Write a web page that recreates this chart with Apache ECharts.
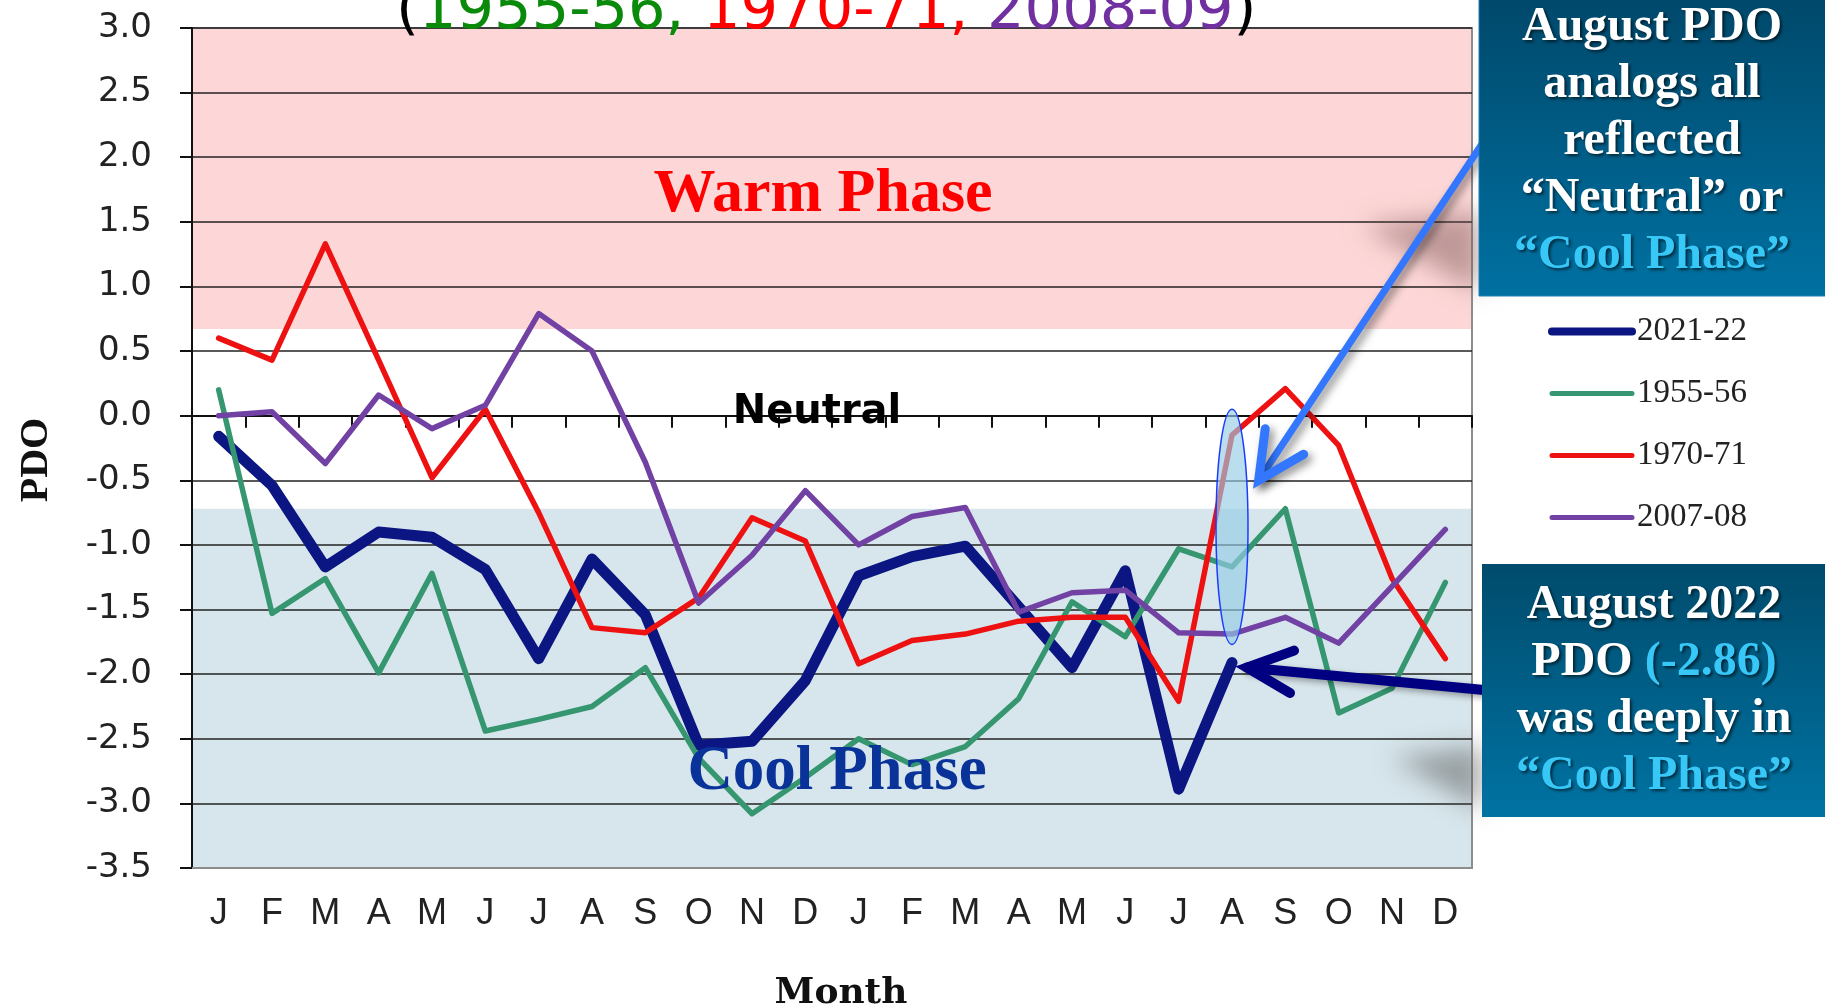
<!DOCTYPE html>
<html><head><meta charset="utf-8">
<script src="https://cdn.jsdelivr.net/npm/echarts/dist/echarts.min.js"></script>
<style>html,body{margin:0;padding:0;background:#fff;}#c{width:1825px;height:1007px;}</style>
</head><body><div id="c"></div>
<script>
// ---- data ----
const months = ['J','F','M','A','M','J','J','A','S','O','N','D','J','F','M','A','M','J','J','A','S','O','N','D'];
const seriesNames = ['2021-22','1955-56','1970-71','2007-08'];
const pdo2021_22 = [-0.16,-0.54,-1.17,-0.90,-0.94,-1.19,-1.88,-1.11,-1.54,-2.55,-2.52,-2.05,-1.24,-1.09,-1.01,-1.48,-1.95,-1.20,-2.89,-1.91];
const pdo1955_56 = [0.20,-1.53,-1.26,-1.99,-1.22,-2.44,-2.35,-2.25,-1.95,-2.65,-3.08,-2.80,-2.50,-2.70,-2.56,-2.19,-1.44,-1.71,-1.03,-1.17,-0.72,-2.30,-2.11,-1.29];
const pdo1970_71 = [0.60,0.43,1.33,0.43,-0.48,0.05,-0.75,-1.64,-1.68,-1.41,-0.79,-0.97,-1.92,-1.74,-1.69,-1.59,-1.56,-1.56,-2.21,-0.15,0.21,-0.23,-1.26,-1.88];
const pdo2007_08 = [0.00,0.03,-0.37,0.16,-0.10,0.08,0.79,0.50,-0.36,-1.45,-1.08,-0.58,-1.00,-0.78,-0.71,-1.52,-1.37,-1.35,-1.68,-1.69,-1.56,-1.76,-1.32,-0.88];
const warmPhase = [0.67, 3.0];
const coolPhase = [-3.5, -0.72];
const titleYears = ['1955-56', '1970-71', '2008-09'];
const augIndex = 19;
const augRange = [0.05, -1.77];
const aug2022Label = '(-2.86)';

const colors = {'2021-22':'#0b1683','1955-56':'#36966f','1970-71':'#ee1111','2007-08':'#7142a3'};
const widths = {'2021-22':11,'1955-56':5.5,'1970-71':5.5,'2007-08':5.5};
const seriesData = {'2021-22':pdo2021_22,'1955-56':pdo1955_56,'1970-71':pdo1970_71,'2007-08':pdo2007_08};

const chart = echarts.init(document.getElementById('c'));
const lineSeries = seriesNames.map(n => ({
  name: n, type: 'line', data: seriesData[n], symbol: 'none', z: 3,
  lineStyle: {color: colors[n], width: widths[n], cap: 'round', join: 'round'},
  itemStyle: {color: colors[n]}
}));

const option = {
  animation: false,
  backgroundColor: '#ffffff',
  grid: {left: 192, right: 353, top: 28, bottom: 139, show: true, borderColor: '#8c8c8c', borderWidth: 2,
         backgroundColor: 'transparent', outerBoundsMode: 'none', containLabel: false},
  legend: {
    data: seriesNames.map(n => ({name: n, lineStyle: {width: n === '2021-22' ? 8 : 5, cap: 'round'}})),
    orient: 'vertical', left: 1543, top: 310, itemWidth: 80, itemHeight: 10, itemGap: 29,
    itemStyle: {opacity: 0},
    textStyle: {fontFamily: 'Liberation Serif', fontSize: 33, color: '#222', lineHeight: 32}
  },
  xAxis: [
    {type: 'category', data: months, position: 'bottom',
     axisLine: {onZero: false, lineStyle: {color: '#8c8c8c', width: 2}},
     axisTick: {show: false}, splitLine: {show: false},
     axisLabel: {interval: 0, fontFamily: 'Liberation Sans', fontSize: 36, color: '#222', margin: 28},
     name: 'Month', nameLocation: 'middle', nameGap: 108,
     nameTextStyle: {fontFamily: 'DejaVu Serif', fontWeight: 'bold', fontSize: 36, color: '#111', padding: [0, 0, 0, 18]}},
    {type: 'category', data: months, position: 'bottom',
     axisLine: {onZero: true, lineStyle: {color: '#111', width: 2}},
     axisTick: {show: true, length: 12, lineStyle: {color: '#111', width: 2}},
     axisLabel: {show: false}, splitLine: {show: false}}
  ],
  yAxis: {
    type: 'value', min: -3.5, max: 3, interval: 0.5,
    axisLine: {show: true, onZero: false, lineStyle: {color: '#111', width: 2}},
    axisTick: {show: true, length: 12, lineStyle: {color: '#111', width: 2}},
    axisLabel: {formatter: v => v.toFixed(1), fontFamily: 'DejaVu Sans', fontSize: 34, color: '#222', margin: 40},
    splitLine: {show: true, lineStyle: {color: '#222', width: 1.5}},
    name: 'PDO', nameLocation: 'middle', nameGap: 135, nameRotate: 90,
    nameTextStyle: {fontFamily: 'Liberation Serif', fontWeight: 'bold', fontSize: 40, color: '#111', padding: [0, 24, 0, 0]}
  },
  series: [
    {type: 'line', name: 'phases', data: [], silent: true, z: -1,
     markArea: {silent: true, z: -1, label: {show: false},
       data: [
         [{yAxis: warmPhase[0], itemStyle: {color: '#fdd7d7'}}, {yAxis: warmPhase[1]}],
         [{yAxis: coolPhase[0], itemStyle: {color: '#d7e6ec'}}, {yAxis: coolPhase[1]}]
       ]}}
  ].concat(lineSeries)
};
chart.setOption(option);

// ---- annotations ----
const px = (i, v) => chart.convertToPixel({xAxisIndex: 0, yAxisIndex: 0}, [i, v]);
const eTop = px(augIndex, augRange[0]), eBot = px(augIndex, augRange[1]);
const pAug = px(augIndex, -0.5), pSep = px(augIndex + 1, -0.5);
const blueTip = [(pAug[0] + pSep[0]) / 2, pAug[1]];
const blueTail = [1486, 138];
const navyPt = px(augIndex, pdo2021_22[augIndex]);
const navyTip = [navyPt[0] + 15, navyPt[1] + 5];
const navyTail = [1484, 690];
function head(tip, tail, len, ang) {
  const a = Math.atan2(tail[1] - tip[1], tail[0] - tip[0]);
  return [[tip[0] + len * Math.cos(a + ang), tip[1] + len * Math.sin(a + ang)], tip,
          [tip[0] + len * Math.cos(a - ang), tip[1] + len * Math.sin(a - ang)]];
}
const serifB = '"Liberation Serif", "Times New Roman", serif';
const cyan = '#38c8f8';
const boxText = {fill: '#ffffff', fontFamily: serifB, fontWeight: 'bold', fontSize: 48, lineHeight: 57,
  align: 'center', verticalAlign: 'middle',
  textShadowColor: 'rgba(0,0,0,0.6)', textShadowBlur: 3, textShadowOffsetX: 2, textShadowOffsetY: 2};
const richC = {c: {fill: cyan, fontFamily: serifB, fontWeight: 'bold', fontSize: 48, lineHeight: 57,
  textShadowColor: 'rgba(0,0,0,0.6)', textShadowBlur: 3, textShadowOffsetX: 2, textShadowOffsetY: 2}};
const grad = (a, b) => new echarts.graphic.LinearGradient(0, 0, 0, 1, [{offset: 0, color: a}, {offset: 1, color: b}]);
const OFF = 3000;
const softShadow = (pts, col) => ({type: 'polygon', z: 41,
  shape: {points: pts.map(p => [p[0] - OFF, p[1]])},
  style: {fill: '#000', shadowBlur: 24, shadowColor: col, shadowOffsetX: OFF, shadowOffsetY: 0}});

const titleFont = {fontFamily: '"Comic Sans MS", "DejaVu Sans", sans-serif', fontSize: 59, lineHeight: 60};
chart.setOption({
  graphic: [
    {type: 'text', z: 50, style: Object.assign({
      x: 396, y: 13, align: 'left', verticalAlign: 'middle',
      text: '{k|(}{g|' + titleYears[0] + ',} {r|' + titleYears[1] + ',} {p|' + titleYears[2] + '}{k|)}',
      rich: {k: Object.assign({fill: '#000'}, titleFont), g: Object.assign({fill: '#0a8a0a'}, titleFont),
             r: Object.assign({fill: '#ff0000'}, titleFont), p: Object.assign({fill: '#7030a0'}, titleFont)}
    }, titleFont)},
    {type: 'text', z: 50, style: {x: 823, y: 195, text: 'Warm Phase', fill: '#ff0000', align: 'center', verticalAlign: 'middle',
      fontFamily: serifB, fontWeight: 'bold', fontSize: 62}},
    {type: 'text', z: 50, style: {x: 837, y: 773, text: 'Cool Phase', fill: '#0a3399', align: 'center', verticalAlign: 'middle',
      fontFamily: serifB, fontWeight: 'bold', fontSize: 63}},
    {type: 'text', z: 50, style: {x: 817, y: 413, text: 'Neutral', fill: '#000', align: 'center', verticalAlign: 'middle',
      fontFamily: '"Comic Sans MS", "DejaVu Sans", sans-serif', fontWeight: 'bold', fontSize: 40}},
    // highlight ellipse
    {type: 'ellipse', z: 40, shape: {cx: eTop[0], cy: (eTop[1] + eBot[1]) / 2, rx: 16, ry: (eBot[1] - eTop[1]) / 2},
     style: {fill: 'rgba(150,205,230,0.65)', stroke: '#1a3cff', lineWidth: 1.5}},
    // soft box shadows
    softShadow([[1362, 226], [1480, 212], [1480, 292]], 'rgba(130,90,90,0.5)'),
    softShadow([[1392, 758], [1482, 746], [1482, 810]], 'rgba(90,90,90,0.5)'),
    // blue arrow
    {type: 'polyline', z: 45, shape: {points: [blueTail, blueTip]},
     style: {stroke: '#3377ff', lineWidth: 7, lineCap: 'round', shadowBlur: 8, shadowColor: 'rgba(0,0,0,0.45)', shadowOffsetX: 4, shadowOffsetY: 4}},
    {type: 'polyline', z: 45, shape: {points: head(blueTip, blueTail, 52, 0.46)},
     style: {stroke: '#3377ff', lineWidth: 9, lineCap: 'round', lineJoin: 'miter', fill: null,
       shadowBlur: 8, shadowColor: 'rgba(0,0,0,0.45)', shadowOffsetX: 4, shadowOffsetY: 4}},
    // navy arrow
    {type: 'polyline', z: 45, shape: {points: [navyTail, navyTip]},
     style: {stroke: '#000080', lineWidth: 10, lineCap: 'round', shadowBlur: 6, shadowColor: 'rgba(0,0,0,0.35)', shadowOffsetX: 3, shadowOffsetY: 3}},
    {type: 'polyline', z: 45, shape: {points: head(navyTip, navyTail, 50, 0.44)},
     style: {stroke: '#000080', lineWidth: 10, lineCap: 'round', lineJoin: 'miter', fill: null}},
    // callout boxes
    {type: 'rect', z: 46, shape: {x: 1479, y: -5, width: 360, height: 301},
     style: {fill: grad('#00486a', '#0071a2'), stroke: '#1f7fb8', lineWidth: 1}},
    {type: 'text', z: 47, style: Object.assign({}, boxText, {x: 1652, y: 142,
      text: 'August PDO\nanalogs all\nreflected\n\u201cNeutral\u201d or\n{c|\u201cCool Phase\u201d}', rich: richC})},
    {type: 'rect', z: 46, shape: {x: 1482, y: 564, width: 360, height: 253},
     style: {fill: grad('#004b6c', '#0073a3')}},
    {type: 'text', z: 47, style: Object.assign({}, boxText, {x: 1654, y: 691,
      text: 'August 2022\nPDO {c|' + aug2022Label + '}\nwas deeply in\n{c|\u201cCool Phase\u201d}', rich: richC})}
  ]
});
</script></body></html>
